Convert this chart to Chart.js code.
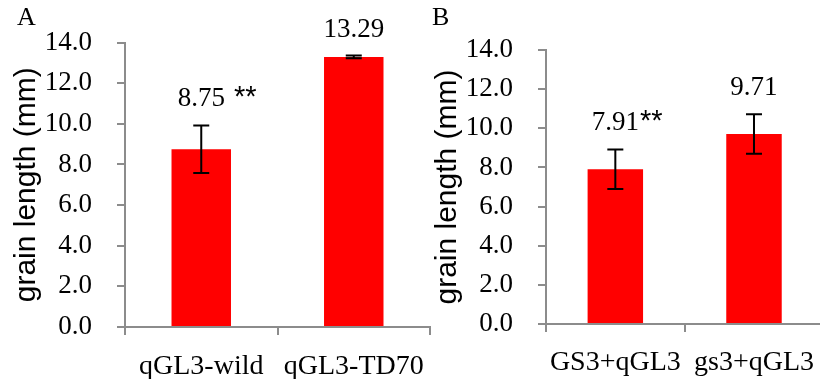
<!DOCTYPE html>
<html>
<head>
<meta charset="utf-8">
<script src="https://cdn.jsdelivr.net/npm/chart.js@4.4.0/dist/chart.umd.min.js"></script>
<style>
  html, body { margin: 0; padding: 0; background: #fff; overflow: hidden; width: 820px; height: 379px; }
  .panel { position: absolute; top: 0; }
  #wrapA { left: 0; }
  #wrapB { left: 420px; }
</style>
</head>
<body>
<div id="wrapA" class="panel"><canvas id="chartA" width="440" height="379"></canvas></div>
<div id="wrapB" class="panel"><canvas id="chartB" width="408" height="379"></canvas></div>
<script>
(function () {
  'use strict';

  // Panel A
  const labelsA = ['qGL3-wild', 'qGL3-TD70'];
  const valuesA = [8.75, 13.29];
  const errorsA = [1.17, 0.07];
  const marksA = [' **', ''];

  // Panel B
  const labelsB = ['GS3+qGL3', 'gs3+qGL3'];
  const valuesB = [7.91, 9.71];
  const errorsB = [1.01, 1.01];
  const marksB = ['**', ''];

  const yTicks = { min: 0, max: 14, step: 2 };
  const axisTitle = 'grain length (mm)';

  const SERIF = '"Liberation Serif", "Times New Roman", serif';
  const SANS = '"Liberation Sans", Arial, sans-serif';
  const AXIS_GREY = '#8c8c8c';

  // error bars, value labels and panel letter
  const annotate = {
    id: 'annotate',
    afterDatasetsDraw(chart, args, opts) {
      const ctx = chart.ctx;
      const yScale = chart.scales.y;
      const meta = chart.getDatasetMeta(0);
      ctx.save();
      meta.data.forEach((bar, i) => {
        const v = opts.values[i];
        const e = opts.errors[i];
        const yTop = yScale.getPixelForValue(v + e);
        const yBot = yScale.getPixelForValue(v - e);
        const x = bar.x;
        ctx.strokeStyle = '#000';
        ctx.lineWidth = 2;
        ctx.beginPath();
        ctx.moveTo(x, yTop);
        ctx.lineTo(x, yBot);
        ctx.moveTo(x - 8, yTop);
        ctx.lineTo(x + 8, yTop);
        ctx.moveTo(x - 8, yBot);
        ctx.lineTo(x + 8, yBot);
        ctx.stroke();

        // value label, baseline a little above the error cap
        const text = v.toFixed(2);
        const ly = yTop - 19;
        ctx.fillStyle = '#000';
        ctx.font = '27px ' + SERIF;
        ctx.textAlign = 'center';
        ctx.textBaseline = 'alphabetic';
        ctx.fillText(text, x, ly);
        if (opts.marks[i]) {
          const w = ctx.measureText(text).width;
          ctx.font = '29px ' + SANS;
          ctx.textAlign = 'left';
          ctx.fillText(opts.marks[i], x + w / 2 + 1, ly);
        }
      });
      ctx.font = '26px ' + SERIF;
      ctx.textAlign = 'left';
      ctx.textBaseline = 'alphabetic';
      ctx.fillStyle = '#000';
      ctx.fillText(opts.letter, opts.letterX, 25);
      ctx.restore();
    }
  };

  function makeChart(id, labels, values, errors, marks, cfg) {
    const ctx = document.getElementById(id).getContext('2d');
    return new Chart(ctx, {
      type: 'bar',
      data: {
        labels,
        datasets: [{
          data: values,
          backgroundColor: '#ff0000',
          borderWidth: 0,
          barPercentage: cfg.barPct,
          categoryPercentage: 1
        }]
      },
      options: {
        responsive: false,
        animation: false,
        layout: { padding: { top: cfg.top, right: cfg.right, left: 0, bottom: 0 } },
        plugins: {
          legend: { display: false },
          tooltip: { enabled: false },
          annotate: {
            values, errors, marks,
            letter: cfg.letter, letterX: cfg.letterX
          }
        },
        scales: {
          x: {
            grid: { drawOnChartArea: false, offset: true, color: AXIS_GREY, lineWidth: 2, tickLength: 8 },
            border: { color: AXIS_GREY, width: 2 },
            ticks: { color: '#000', font: { family: SERIF, size: 28 }, padding: cfg.xPad, maxRotation: 0 },
            afterFit: (s) => { s.height = cfg.xHeight; }
          },
          y: {
            min: yTicks.min,
            max: yTicks.max,
            grid: { drawOnChartArea: false, color: AXIS_GREY, lineWidth: 2, tickLength: 8 },
            border: { color: AXIS_GREY, width: 2 },
            ticks: {
              stepSize: yTicks.step,
              color: '#000',
              font: { family: SERIF, size: 27 },
              padding: 25,
              callback: (v) => v.toFixed(1)
            },
            title: {
              display: true,
              text: axisTitle,
              color: '#000',
              font: { family: SANS, size: 30 },
              padding: { top: cfg.titlePad, bottom: 0 }
            },
            afterFit: (s) => { s.width = cfg.yWidth; }
          }
        }
      },
      plugins: [annotate]
    });
  }

  window.chartA = makeChart('chartA', labelsA, valuesA, errorsA, marksA, {
    top: 42.5, right: 5, xHeight: 52, xPad: 15, yWidth: 125, titlePad: 9, barPct: 0.39, letter: 'A', letterX: 17
  });
  window.chartB = makeChart('chartB', labelsB, valuesB, errorsB, marksB, {
    top: 50, right: 0, xHeight: 55, xPad: 14, yWidth: 126, titlePad: 10, barPct: 0.40, letter: 'B', letterX: 12
  });
})();
</script>
</body>
</html>
